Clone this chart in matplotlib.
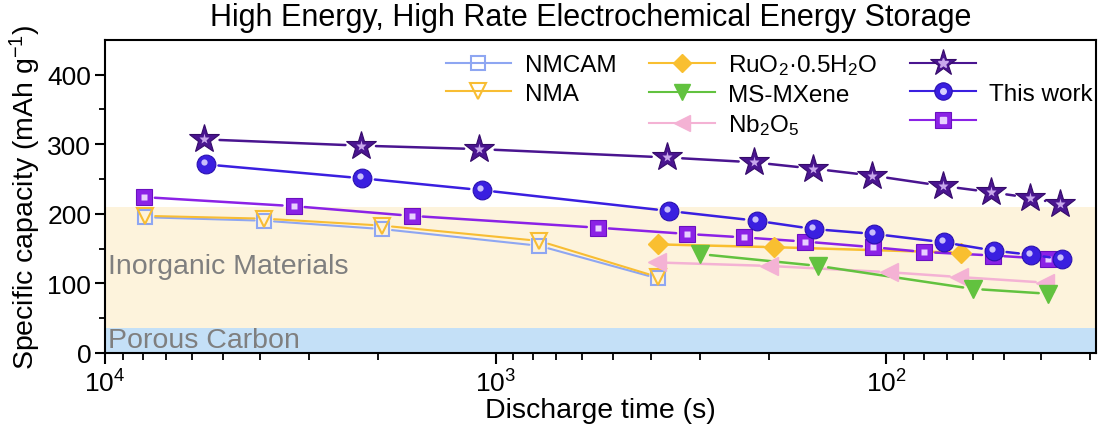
import matplotlib
matplotlib.use("Agg")
import matplotlib.pyplot as plt
from matplotlib.lines import Line2D
from matplotlib.legend_handler import HandlerTuple
from matplotlib.transforms import offset_copy

plt.rcParams["font.family"] = ["Liberation Sans", "DejaVu Sans"]
plt.rcParams["mathtext.fontset"] = "custom"
plt.rcParams["mathtext.rm"] = "Liberation Sans"
plt.rcParams["mathtext.it"] = "Liberation Sans:italic"
plt.rcParams["mathtext.default"] = "regular"

# ── Data (discharge time in s, capacity in mAh/g) ─────────────────────────────
star_t = [5570, 2215, 1100, 364, 218, 154, 108.6, 71.6, 53.8, 42.8, 35.8]
star_c = [307, 298, 293, 281, 274, 265, 255, 240, 231, 223, 214]

circ_t = [5515, 2193, 1085, 359, 214.6, 152.9, 107.2, 71.2, 52.9, 42.5, 35.4]
circ_c = [271, 251, 234, 204, 190, 178, 171, 159, 147, 141, 135]

sq_t = [7960, 3290, 1640, 547, 323, 231, 161.6, 108, 79.9, 53.2, 38.4]
sq_c = [224, 211, 197, 180, 171, 166, 160, 152, 145, 140, 135]

nmcam_t = [7880, 3910, 1950, 774, 384]
nmcam_c = [195, 190, 178, 154, 107]

nma_t = [7880, 3910, 1950, 774, 384]
nma_c = [197, 193, 183, 161, 109]

ruo2_t = [384, 194, 64.3]
ruo2_c = [156, 152, 144]

mxene_t = [299, 149, 60, 38.4]
mxene_c = [142, 125, 92, 85]

nb2o5_t = [387, 199, 98.4, 64.9, 39.1]
nb2o5_c = [130, 125, 116, 109, 101]

carbon_band = (0, 36)
inorganic_band = (36, 210)

# ── Styles ─────────────────────────────────────────────────────────────────────
C_STAR = "#4a1590"
C_CIRC = "#3a1fe0"
C_SQ = "#8b22e6"
C_NMCAM = "#8ea6f2"
C_NMA = "#f8bd33"
C_RUO2 = "#f9bf30"
C_MX = "#62c23f"
C_NB = "#f4b2d4"

fig = plt.figure(figsize=(11, 4.31), dpi=100)
ax = fig.add_axes([0.0955, 0.179, 0.9009, 0.726])
ax.set_xscale("log")
ax.set_xlim(1e4, 29)
ax.set_ylim(0, 450)

ax.axhspan(*carbon_band, color="#c4e0f7", lw=0, zorder=0)
ax.axhspan(*inorganic_band, color="#fdf3dc", lw=0, zorder=0)
ax.text(1e4 * 0.985, 125, "Inorganic Materials", color="#7f7f7f",
        fontsize=20.5, va="center", ha="left", zorder=1)
ax.text(1e4 * 0.985, 18, "Porous Carbon", color="#7f7f7f",
        fontsize=20.5, va="center", ha="left", zorder=1)


def series(t, c, lc, shrink, lw, z, **mk):
    for i in range(len(t) - 1):
        ax.annotate("", xy=(t[i + 1], c[i + 1]), xytext=(t[i], c[i]),
                    arrowprops=dict(arrowstyle="-", color=lc, lw=lw,
                                    shrinkA=shrink, shrinkB=shrink),
                    zorder=z)
    ax.plot(t, c, ls="none", zorder=z + 0.5, **mk)


hl = offset_copy(ax.transData, fig=fig, x=-1.5, y=1.5, units="points")

series(nmcam_t, nmcam_c, C_NMCAM, 7, 1.5, 2,
       marker="s", ms=10.5, mfc="none", mec=C_NMCAM, mew=1.5)
series(nma_t, nma_c, C_NMA, 7, 1.5, 2.2,
       marker="v", ms=12, mfc="none", mec=C_NMA, mew=1.5)
series(nb2o5_t, nb2o5_c, C_NB, 7, 1.8, 2.4,
       marker="<", ms=13, color=C_NB, mec=C_NB)
series(mxene_t, mxene_c, C_MX, 7, 1.8, 2.6,
       marker="v", ms=13, color=C_MX, mec=C_MX)
series(ruo2_t, ruo2_c, C_RUO2, 7, 1.8, 2.8,
       marker="D", ms=10, color=C_RUO2, mec=C_RUO2)

series(sq_t, sq_c, C_SQ, 8, 1.8, 3,
       marker="s", ms=12, color=C_SQ, mec="#6a10c0", mew=0.8)
ax.plot(sq_t, sq_c, ls="none", marker="s", ms=4, color="#e8d0ff",
        mec="none", zorder=3.6)

series(circ_t, circ_c, C_CIRC, 9, 1.8, 4,
       marker="o", ms=13.5, color=C_CIRC, mec="#2a10b0", mew=0.8)
ax.plot(circ_t, circ_c, ls="none", marker="o", ms=4.5, color="#d8d0ff",
        mec="none", alpha=0.9, zorder=4.6, transform=hl)

series(star_t, star_c, C_STAR, 11, 1.8, 5,
       marker="*", ms=22, color=C_STAR, mec="#350a6a", mew=0.8)
ax.plot(star_t, star_c, ls="none", marker="*", ms=8, color="#c9a8ec",
        mec="none", zorder=5.6)

# ── Axes styling ───────────────────────────────────────────────────────────────
for sp in ax.spines.values():
    sp.set_linewidth(1.5)
ax.set_yticks([0, 100, 200, 300, 400])
ax.set_yticks([50, 150, 250, 350], minor=True)
ax.tick_params(axis="both", which="major", direction="out", labelsize=19,
               width=1.5)
ax.tick_params(axis="x", which="major", length=8, pad=4)
ax.tick_params(axis="x", which="minor", length=5, width=1.3, direction="out")
ax.tick_params(axis="y", which="major", length=7, pad=3)
ax.tick_params(axis="y", which="minor", length=4, width=1.3, direction="out")
ax.set_xlabel("Discharge time (s)", fontsize=20.5, labelpad=0)
ax.set_ylabel("Specific capacity (mAh g$^{-1}$)", fontsize=20.5, labelpad=3)
ax.set_title("High Energy, High Rate Electrochemical Energy Storage",
             fontsize=22, pad=11, x=0.49,
             family=["Liberation Sans Narrow", "Liberation Sans"])

# ── Legend ─────────────────────────────────────────────────────────────────────
def h(color, marker, ms, **kw):
    return Line2D([], [], color=color, marker=marker, ms=ms, lw=1.5, **kw)


blank = Line2D([], [], ls="none", marker="none")
handles = [
    h(C_NMCAM, "s", 10, mfc="none", mew=1.5),
    h(C_NMA, "v", 11, mfc="none", mew=1.5),
    blank,
    h(C_RUO2, "D", 9),
    h(C_MX, "v", 12),
    h(C_NB, "<", 12),
    (h(C_STAR, "*", 20, mec="#350a6a", mew=0.8),
     Line2D([], [], ls="none", marker="*", ms=7, color="#c9a8ec")),
    (h(C_CIRC, "o", 12.5, mec="#2a10b0", mew=0.8),
     Line2D([], [], ls="none", marker="o", ms=4, color="#d8d0ff")),
    (h(C_SQ, "s", 11, mec="#6a10c0", mew=0.8),
     Line2D([], [], ls="none", marker="s", ms=4, color="#e8d0ff")),
]
labels = ["NMCAM", "NMA", "",
          "RuO$_2$·0.5H$_2$O", "MS-MXene", "Nb$_2$O$_5$",
          "", "This work", ""]
ax.legend(handles, labels, ncol=3, frameon=False, fontsize=17.5,
          loc="upper left", bbox_to_anchor=(0.394, 0.905),
          bbox_transform=fig.transFigure, borderpad=0, labelspacing=0.27,
          handlelength=2.7, handletextpad=0.55, columnspacing=1.35,
          handler_map={tuple: HandlerTuple(ndivide=1, pad=0)})

fig.savefig("out.png", dpi=100)
